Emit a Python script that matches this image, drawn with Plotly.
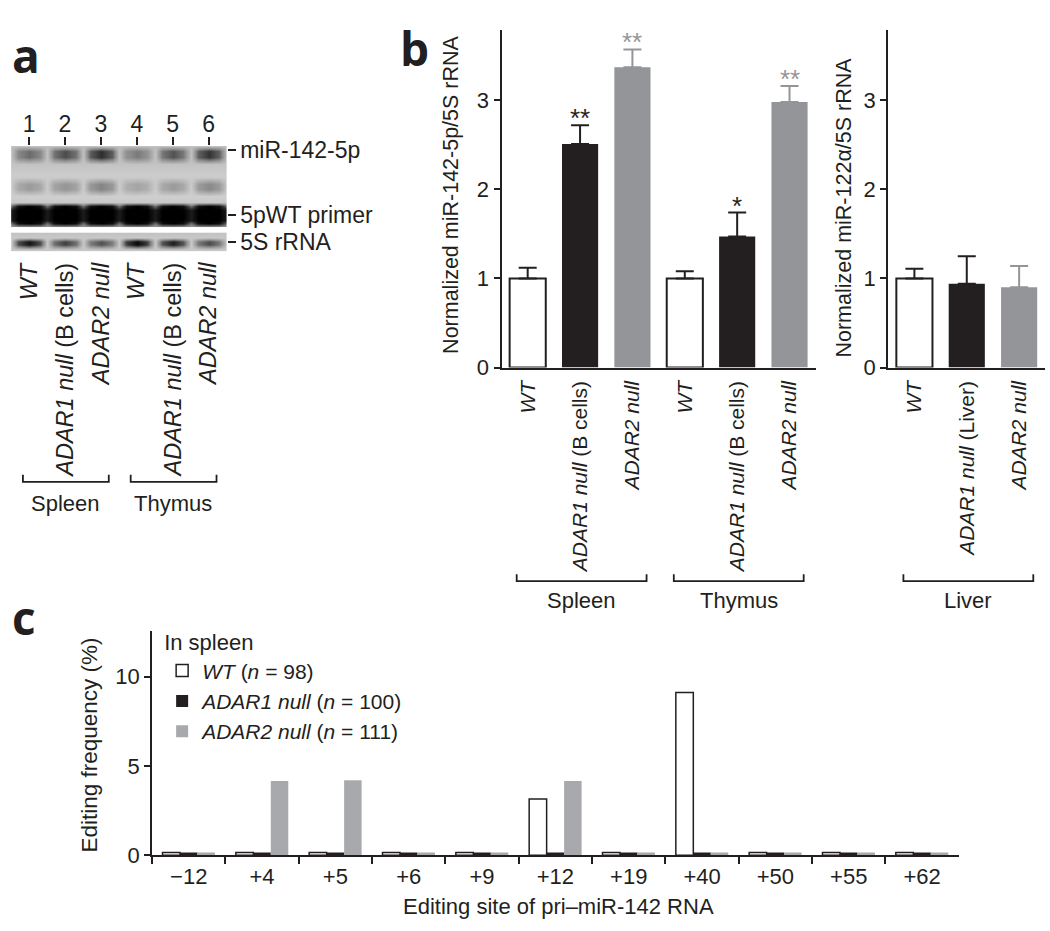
import plotly.graph_objects as go

W, H = 1050, 931
FONT = "Liberation Sans"
BLACK = "#231f20"
GRAY_B = "#939598"
GRAY_C = "#a7a9ac"

# ---------------- data ----------------
# panel a (gel) : band darkness per lane (0 = background, 1 = black)
lanes = [1, 2, 3, 4, 5, 6]
lane_numbers = ["1", "2", "3", "4", "5", "6"]
lane_labels = ["<i>WT</i>", "<i>ADAR1 null</i> (B cells)", "<i>ADAR2 null</i>",
               "<i>WT</i>", "<i>ADAR1 null</i> (B cells)", "<i>ADAR2 null</i>"]
mir142_band = [0.60, 0.70, 0.80, 0.55, 0.68, 0.78]
middle_band = [0.42, 0.45, 0.52, 0.38, 0.42, 0.50]
primer_band = [1.0, 1.0, 1.0, 1.0, 1.0, 1.0]
rrna5s_band = [0.90, 0.74, 0.68, 0.96, 0.86, 0.70]
gel_tissues = ["Spleen", "Thymus"]
gel_groups = [[1, 3], [4, 6]]

# panel b
b_left_labels = ["<i>WT</i>", "<i>ADAR1 null</i> (B cells)", "<i>ADAR2 null</i>",
                 "<i>WT</i>", "<i>ADAR1 null</i> (B cells)", "<i>ADAR2 null</i>"]
b_left_x_wt, b_left_wt, b_left_wt_err = [0, 3], [1.00, 1.00], [0.12, 0.08]
b_left_x_a1, b_left_a1, b_left_a1_err = [1, 4], [2.51, 1.47], [0.21, 0.27]
b_left_x_a2, b_left_a2, b_left_a2_err = [2, 5], [3.37, 2.98], [0.20, 0.18]
b_left_stars = ["", "**", "**", "", "*", "**"]
b_left_tissues = ["Spleen", "Thymus"]
b_left_groups = [[0, 2], [3, 5]]

b_right_labels = ["<i>WT</i>", "<i>ADAR1 null</i> (Liver)", "<i>ADAR2 null</i>"]
b_right_values = [1.00, 0.94, 0.90]
b_right_err = [0.11, 0.31, 0.24]
b_right_tissue = "Liver"

# panel c
sites = ["\u221212", "+4", "+5", "+6", "+9", "+12", "+19", "+40", "+50", "+55", "+62"]
c_wt = [0.15, 0.15, 0.15, 0.15, 0.15, 3.15, 0.15, 9.10, 0.15, 0.15, 0.15]
c_adar1 = [0.15, 0.15, 0.15, 0.15, 0.15, 0.15, 0.15, 0.15, 0.15, 0.15, 0.15]
c_adar2 = [0.15, 4.15, 4.20, 0.15, 0.15, 4.15, 0.15, 0.15, 0.15, 0.15, 0.15]
c_names = ["<i>WT</i> (<i>n</i> = 98)", "<i>ADAR1 null</i> (<i>n</i> = 100)",
           "<i>ADAR2 null</i> (<i>n</i> = 111)"]

# small calibration of the captured picture (observed slight shrink of the screenshot)
SX, SY, OY = 0.993, 0.983, 4.0


def xd(p):
    return (p / SX) / W


def yd(p):
    return 1 - ((p - OY) / SY) / H


# ---------------- gel heatmap construction ----------------
gel_x = []
for L in lanes:
    gel_x += [L - 0.5, L - 0.3, L, L + 0.3]
gel_x.append(lanes[-1] + 0.5)


def band_row(peaks, bg, k=0.72, gap=None):
    g = bg if gap is None else gap
    row = []
    for p in peaks:
        s = bg + k * (p - bg)
        row += [g, s, p, s]
    row.append(g)
    return row


def bg_row(v):
    return [v] * len(gel_x)


upper_y = [0, 5, 11, 18, 26, 31, 38, 43, 50, 56, 60, 64, 74, 78, 82]
upper_z = [
    bg_row(0.27),
    band_row(mir142_band, 0.25), band_row(mir142_band, 0.25),
    bg_row(0.24), bg_row(0.21), bg_row(0.21),
    band_row(middle_band, 0.21), band_row(middle_band, 0.21),
    bg_row(0.19), bg_row(0.22),
    band_row(primer_band, 0.35, 0.9, 0.6),
    band_row(primer_band, 0.88, 1.0, 0.88), band_row(primer_band, 0.88, 1.0, 0.88),
    band_row(primer_band, 0.35, 0.9, 0.6),
    bg_row(0.4),
]
lower_y = [0, 5, 9, 12, 17, 19]
lower_z = [bg_row(0.25), bg_row(0.22), band_row(rrna5s_band, 0.22, 0.7),
           band_row(rrna5s_band, 0.22, 0.7), bg_row(0.22), bg_row(0.25)]

gel_cs = [[0, "#f2f2f2"], [0.2, "#cdcdcd"], [0.5, "#8a8a8a"], [0.8, "#2e2e2e"], [1, "#000000"]]

fig = go.Figure()
fig.add_trace(go.Heatmap(x=gel_x, y=upper_y, z=upper_z, zmin=0, zmax=1, colorscale=gel_cs,
                         zsmooth="best", showscale=False, hoverinfo="skip", xaxis="x", yaxis="y"))
fig.add_trace(go.Heatmap(x=gel_x, y=lower_y, z=lower_z, zmin=0, zmax=1, colorscale=gel_cs,
                         zsmooth="best", showscale=False, hoverinfo="skip", xaxis="x2", yaxis="y2"))


# ---------------- panel b bars ----------------
def err(arr, color):
    return dict(type="data", symmetric=False, array=arr, arrayminus=[0] * len(arr),
                color=color, thickness=2, width=9)


BW = 0.69
fig.add_trace(go.Bar(x=b_left_x_wt, y=b_left_wt, width=BW, offsetgroup="bl",
                     marker=dict(color="white", line=dict(color=BLACK, width=2)),
                     error_y=err(b_left_wt_err, BLACK), xaxis="x3", yaxis="y3", showlegend=False))
fig.add_trace(go.Bar(x=b_left_x_a1, y=b_left_a1, width=BW, offsetgroup="bl",
                     marker=dict(color=BLACK, line=dict(color=BLACK, width=0)),
                     error_y=err(b_left_a1_err, BLACK), xaxis="x3", yaxis="y3", showlegend=False))
fig.add_trace(go.Bar(x=b_left_x_a2, y=b_left_a2, width=BW, offsetgroup="bl",
                     marker=dict(color=GRAY_B, line=dict(color=GRAY_B, width=0)),
                     error_y=err(b_left_a2_err, GRAY_B), xaxis="x3", yaxis="y3", showlegend=False))

for xi, v, e, col in [(0, b_right_values[0], b_right_err[0], "white"),
                      (1, b_right_values[1], b_right_err[1], BLACK),
                      (2, b_right_values[2], b_right_err[2], GRAY_B)]:
    ecol = GRAY_B if col == GRAY_B else BLACK
    fig.add_trace(go.Bar(x=[xi], y=[v], width=BW, offsetgroup="br",
                         marker=dict(color=col, line=dict(color=BLACK if col == "white" else col,
                                                          width=2 if col == "white" else 0)),
                         error_y=err([e], ecol), xaxis="x4", yaxis="y4", showlegend=False))

# ---------------- panel c bars ----------------
fig.add_trace(go.Bar(x=sites, y=c_wt, name=c_names[0], xaxis="x5", yaxis="y5",
                     marker=dict(color="white", line=dict(color=BLACK, width=1.5))))
fig.add_trace(go.Bar(x=sites, y=c_adar1, name=c_names[1], xaxis="x5", yaxis="y5",
                     marker=dict(color=BLACK, line=dict(color=BLACK, width=0))))
fig.add_trace(go.Bar(x=sites, y=c_adar2, name=c_names[2], xaxis="x5", yaxis="y5",
                     marker=dict(color=GRAY_C, line=dict(color=GRAY_C, width=0))))

# ---------------- annotations ----------------
ann = []
shapes = []


def tfont(size):
    return dict(family=FONT, size=size, color=BLACK)


# panel letters
for letter, x, y in [("a", 10, 50), ("b", 395, 43), ("c", 10, 616)]:
    ann.append(dict(text=letter, x=xd(x), y=yd(y), xref="paper", yref="paper", xanchor="left",
                    yanchor="middle", showarrow=False,
                    font=dict(family="Open Sans", size=46, color=BLACK, weight="bold")))

# panel a lane labels
for L, lab in zip(lanes, lane_labels):
    ann.append(dict(text=lab, x=L, xref="x", y=yd(257), yref="paper", textangle=-90,
                    xanchor="center", yanchor="top", showarrow=False, font=tfont(23.5)))


def bracket(xref, x0, x1, ytop_px, ybot_px):
    shapes.append(dict(type="path", xref=xref, yref="paper",
                       path=f"M {x0},{yd(ytop_px)} L {x0},{yd(ybot_px)} L {x1},{yd(ybot_px)} L {x1},{yd(ytop_px)}",
                       line=dict(color=BLACK, width=1.8)))


for tissue, (a0, a1) in zip(gel_tissues, gel_groups):
    bracket("x", a0 - 0.17, a1 + 0.22, 473, 480)
    ann.append(dict(text=tissue, x=(a0 + a1) / 2 + 0.02, xref="x", y=yd(502), yref="paper",
                    xanchor="center", yanchor="middle", showarrow=False, font=tfont(22)))

# panel b stars
bl_x = b_left_x_wt + b_left_x_a1 + b_left_x_a2
bl_top = [v + e for v, e in zip(b_left_wt + b_left_a1 + b_left_a2,
                                 b_left_wt_err + b_left_a1_err + b_left_a2_err)]
bl_star_col = [BLACK, BLACK, BLACK, BLACK, GRAY_B, GRAY_B]
for xi, top, col in zip(bl_x, bl_top, bl_star_col):
    s = b_left_stars[xi]
    if s:
        ann.append(dict(text=s, x=xi, y=top, xref="x3", yref="y3", xanchor="center",
                        yanchor="bottom", yshift=-10, showarrow=False,
                        font=dict(family=FONT, size=26, color=col)))

for tissue, (a0, a1) in zip(b_left_tissues, b_left_groups):
    bracket("x3", a0 - 0.21, a1 + 0.27, 573, 580)
    ann.append(dict(text=tissue, x=(a0 + a1) / 2 + 0.03, xref="x3", y=yd(600), yref="paper",
                    xanchor="center", yanchor="middle", showarrow=False, font=tfont(22)))
bracket("x4", -0.21, 2.27, 573, 580)
ann.append(dict(text=b_right_tissue, x=1.03, xref="x4", y=yd(600), yref="paper",
                xanchor="center", yanchor="middle", showarrow=False, font=tfont(22)))

# axis titles as annotations
ann.append(dict(text="Normalized miR-142-5p/5S rRNA", x=xd(448), y=yd(191), xref="paper",
                yref="paper", xanchor="center", yanchor="middle", textangle=-90,
                showarrow=False, font=tfont(21.5)))
ann.append(dict(text="Normalized miR-122\u03b1/5S rRNA", x=xd(838), y=yd(204), xref="paper",
                yref="paper", xanchor="center", yanchor="middle", textangle=-90,
                showarrow=False, font=tfont(21.5)))
ann.append(dict(text="Editing frequency (%)", x=xd(88), y=yd(745), xref="paper", yref="paper",
                xanchor="center", yanchor="middle", textangle=-90, showarrow=False,
                font=tfont(22.5)))
ann.append(dict(text="Editing site of pri\u2013miR-142 RNA", x=xd(555), y=yd(908), xref="paper",
                yref="paper", xanchor="center", yanchor="middle", showarrow=False,
                font=tfont(22)))

ax_common = dict(showgrid=False, zeroline=False, linecolor=BLACK, tickcolor=BLACK,
                 tickfont=tfont(22), fixedrange=True)

fig.update_layout(
    width=W, height=H, margin=dict(l=0, r=0, t=0, b=0),
    paper_bgcolor="white", plot_bgcolor="rgba(0,0,0,0)",
    barmode="group", bargap=0.285, bargroupgap=0,
    font=dict(family=FONT, color=BLACK),
    annotations=ann, shapes=shapes,
    showlegend=True,
    legend=dict(x=xd(161), y=yd(621), xanchor="left", yanchor="top", bgcolor="rgba(0,0,0,0)",
                font=tfont(21),
                title=dict(text="In spleen", font=tfont(22)),
                tracegroupgap=0, itemwidth=30),
    # gel
    xaxis=dict(ax_common, domain=[xd(11), xd(225)], range=[0.5, 6.5], side="top",
               tickvals=lanes, ticktext=lane_numbers, ticks="outside", ticklen=8, tickwidth=1.5,
               tickfont=tfont(23), ticklabelstandoff=-4, showline=False, anchor="y"),
    yaxis=dict(ax_common, domain=[yd(224), yd(142)], range=[82, 0], side="right",
               tickvals=[4, 69], ticktext=["miR-142-5p", "5pWT primer"], ticks="outside",
               ticklen=8, tickwidth=1.5, tickfont=tfont(23), showline=False, anchor="x"),
    xaxis2=dict(ax_common, domain=[xd(11), xd(225)], range=[0.5, 6.5], showticklabels=False,
                ticks="", showline=False, anchor="y2"),
    yaxis2=dict(ax_common, domain=[yd(248), yd(229)], range=[19, 0], side="right",
                tickvals=[10], ticktext=["5S rRNA"], ticks="outside", ticklen=8, tickwidth=1.5,
                tickfont=tfont(23), showline=False, anchor="x2"),
    # panel b left
    xaxis3=dict(ax_common, domain=[xd(498), xd(810)], range=[-0.5, 5.5], tickvals=[0, 1, 2, 3, 4, 5],
                ticktext=b_left_labels, tickangle=-90, ticks="", showline=True, linewidth=2,
                tickfont=tfont(21), ticklabelstandoff=3, anchor="y3"),
    yaxis3=dict(ax_common, domain=[yd(365), yd(25)], range=[0, 3.79], tickvals=[0, 1, 2, 3],
                ticks="outside", ticklen=6, tickwidth=2, showline=True, linewidth=2, anchor="x3"),
    # panel b right
    xaxis4=dict(ax_common, domain=[xd(882), xd(1038)], range=[-0.5, 2.5], tickvals=[0, 1, 2],
                ticktext=b_right_labels, tickangle=-90, ticks="", showline=True, linewidth=2,
                tickfont=tfont(21), ticklabelstandoff=3, anchor="y4"),
    yaxis4=dict(ax_common, domain=[yd(365), yd(25)], range=[0, 3.79], tickvals=[0, 1, 2, 3],
                ticks="outside", ticklen=6, tickwidth=2, showline=True, linewidth=2, anchor="x4"),
    # panel c
    xaxis5=dict(ax_common, domain=[xd(151), xd(952)], type="category", ticks="outside",
                tickson="boundaries", ticklen=7, tickwidth=2, showline=True, linewidth=2,
                anchor="y5"),
    yaxis5=dict(ax_common, domain=[yd(856), yd(630)], range=[0, 12.56], tickvals=[0, 5, 10],
                ticks="outside", ticklen=6, tickwidth=2, showline=True, linewidth=2, anchor="x5"),
)

# remove the default 8px page margin so the 1050x931 figure fills the window exactly
fig.write_html("out.html", config={"displayModeBar": False}, post_script=(
    "document.body.style.margin='0';"
    "document.documentElement.style.overflow='hidden';"
    "document.body.style.overflow='hidden';"))
